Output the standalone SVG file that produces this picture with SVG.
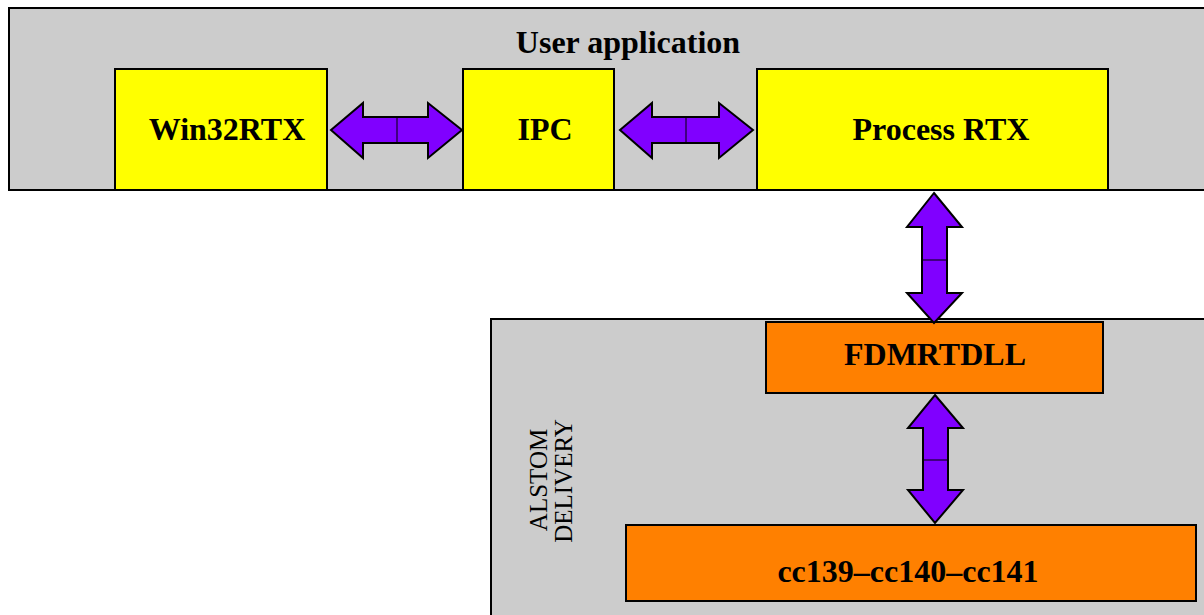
<svg xmlns="http://www.w3.org/2000/svg" width="1204" height="615" viewBox="0 0 1204 615">
<style>
.grp{fill:#cccccc;stroke:#000;stroke-width:2}
.y{fill:#ffff00;stroke:#000;stroke-width:2}
.o{fill:#ff8000;stroke:#000;stroke-width:2}
.arr{fill:#8000ff;stroke:#000;stroke-width:2;stroke-linejoin:miter}
.mid{stroke:#000;stroke-width:1}
.t{font-family:"Liberation Serif",serif;font-weight:bold;font-size:32px;text-anchor:middle;fill:#000}
.r{font-family:"Liberation Serif",serif;font-size:25px;text-anchor:middle;fill:#000}
</style>
<rect width="1204" height="615" fill="#fff"/>
<g id="user-application">
<rect class="grp" x="9" y="8" width="1200" height="182"/>
<text class="t" x="628" y="53">User application</text>
</g>
<g id="alstom-delivery">
<rect class="grp" x="491" y="319" width="720" height="310"/>
<text class="r" transform="translate(547,480) rotate(-90)">ALSTOM</text>
<text class="r" transform="translate(572,481) rotate(-90)">DELIVERY</text>
</g>
<g id="win32rtx">
<rect class="y" x="115" y="69" width="212" height="121"/>
<text class="t" x="227" y="140">Win32RTX</text>
</g>
<g id="ipc">
<rect class="y" x="463" y="69" width="151" height="121"/>
<text class="t" x="545" y="140">IPC</text>
</g>
<g id="process-rtx">
<rect class="y" x="757" y="69" width="351" height="121"/>
<text class="t" x="941" y="140">Process RTX</text>
</g>
<g id="fdmrtdll">
<rect class="o" x="766" y="322" width="337" height="71"/>
<text class="t" x="935" y="365">FDMRTDLL</text>
</g>
<g id="cc139">
<rect class="o" x="626" y="525" width="570" height="76"/>
<text class="t" x="908" y="582">cc139–cc140–cc141</text>
</g>
<g id="connectors">
<polygon class="arr" points="331,130 363,103 363,117 428,117 428,103 462,130 428,158 428,143 363,143 363,158"/>
<line class="mid" x1="397" y1="117" x2="397" y2="143"/>
<polygon class="arr" points="620,130 652,103 652,117 719,117 719,103 753,130 719,158 719,143 652,143 652,158"/>
<line class="mid" x1="686" y1="117" x2="686" y2="143"/>
<polygon class="arr" points="934,193 962,227 947,227 947,293 962,293 934,323 907,293 922,293 922,227 907,227"/>
<line class="mid" x1="922" y1="260" x2="947" y2="260"/>
<polygon class="arr" points="935,395 963,428 948,428 948,490 963,490 935,523 908,490 923,490 923,428 908,428"/>
<line class="mid" x1="923" y1="460" x2="948" y2="460"/>
</g>
</svg>
